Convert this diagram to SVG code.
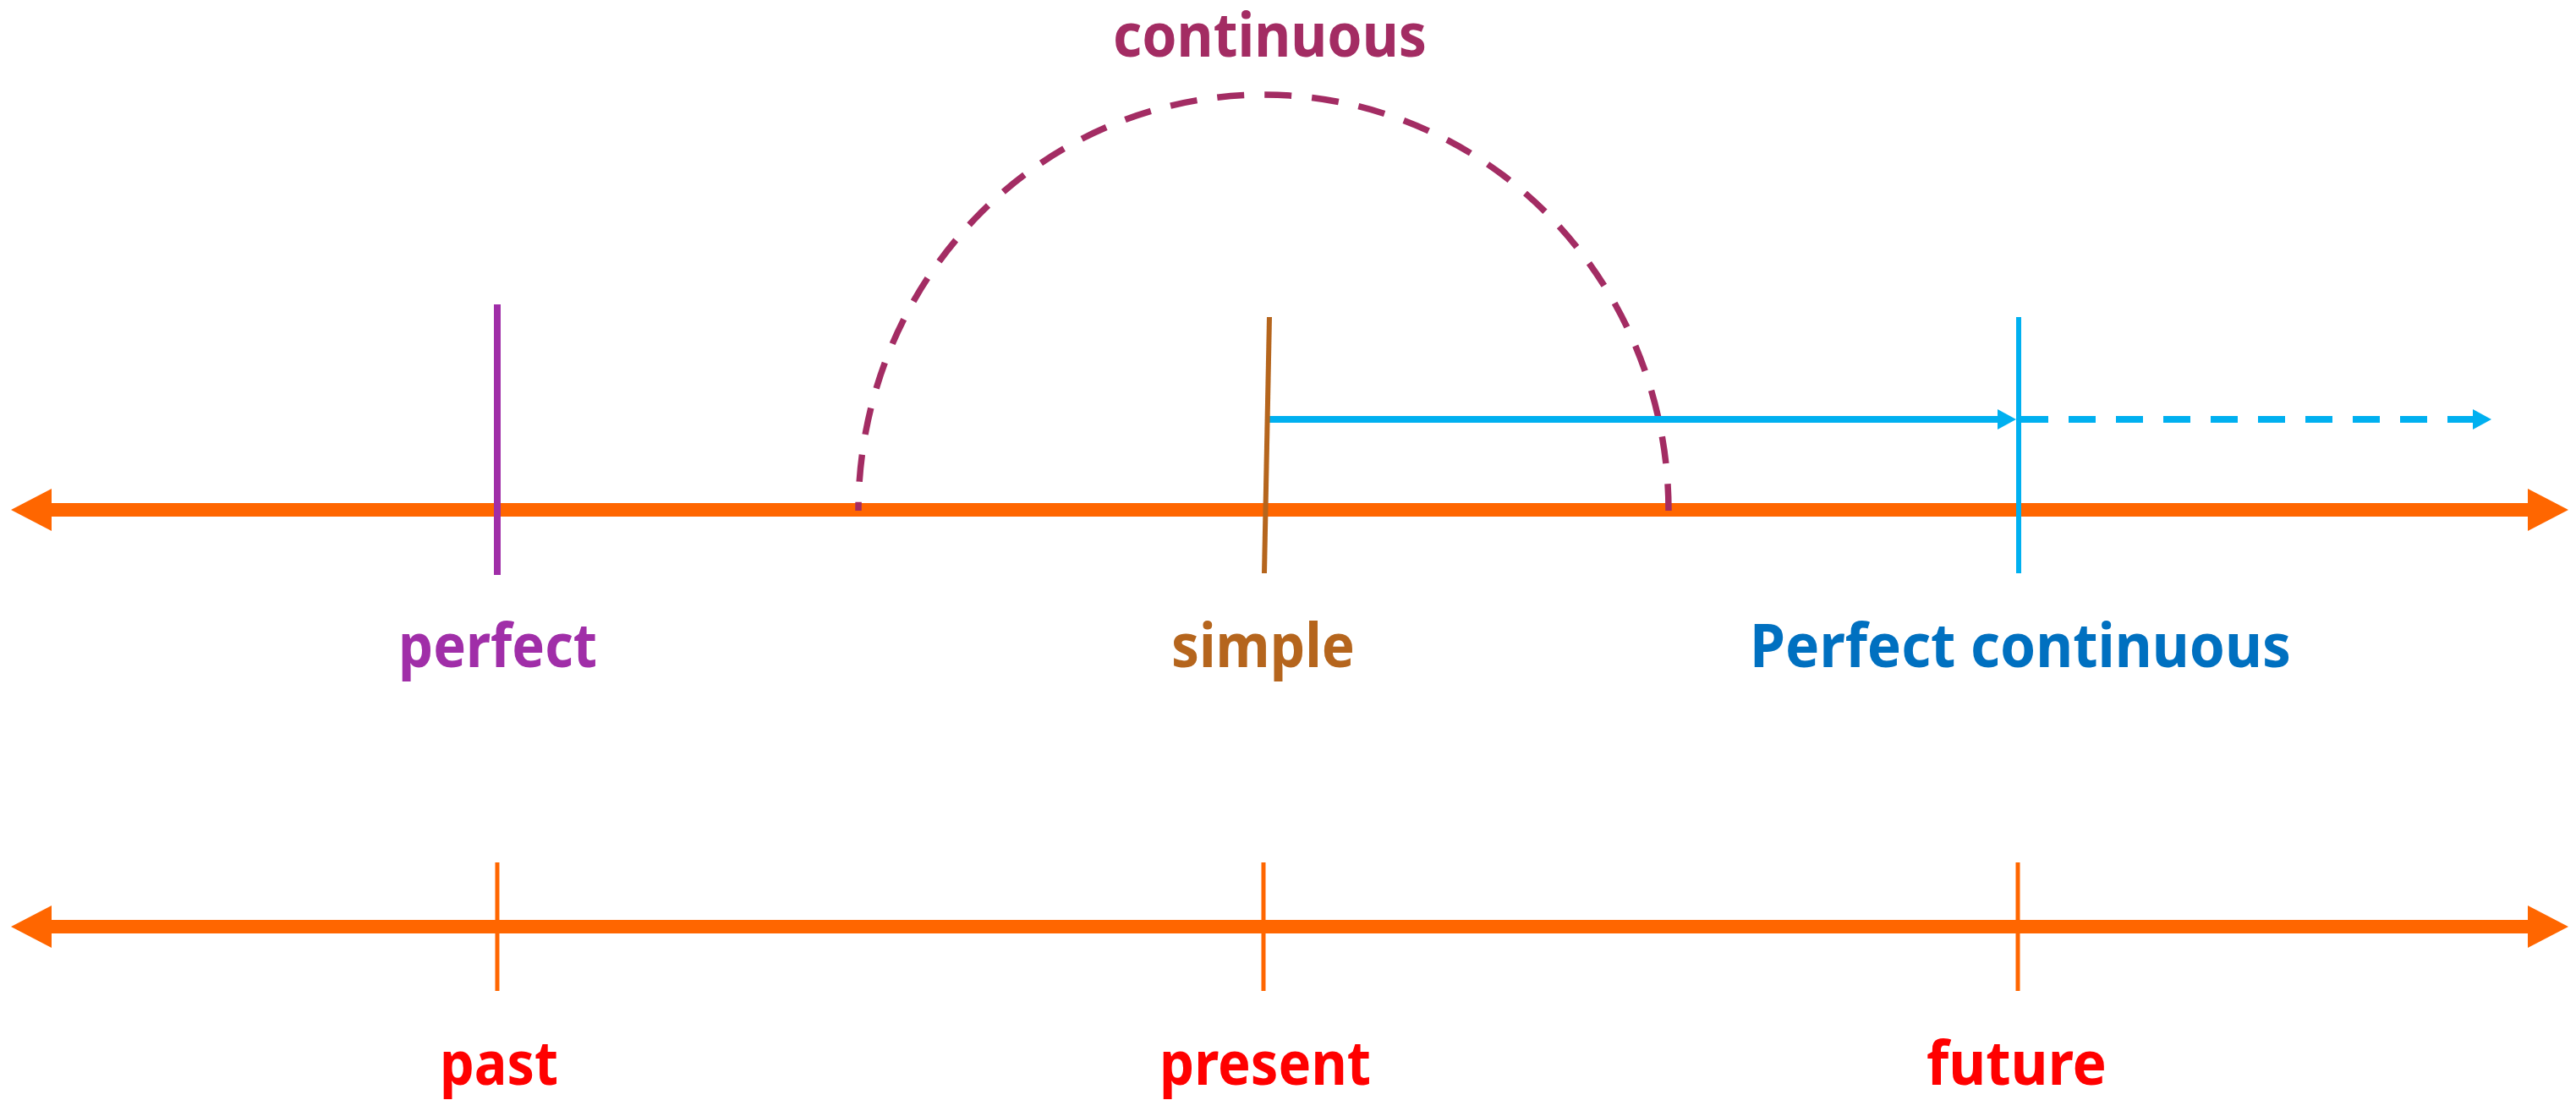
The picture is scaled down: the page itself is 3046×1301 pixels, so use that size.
<svg xmlns="http://www.w3.org/2000/svg" width="3046" height="1301" viewBox="0 0 3046 1301">
<style>
  text { font-family: "Noto Sans", "Open Sans", "DejaVu Sans", sans-serif; font-weight: bold; font-size: 72px; }
  .axis { stroke: #FF6600; stroke-width: 16; fill: none; marker-start: url(#axisHead); marker-end: url(#axisHead); }
  .tick { stroke: #FF6600; stroke-width: 5; }
  .blue { stroke: #00B0F0; stroke-width: 8; fill: none; marker-end: url(#blueHead); }
</style>
<defs>
  <marker id="axisHead" markerUnits="userSpaceOnUse" viewBox="0 0 48 50" markerWidth="48" markerHeight="50" refX="0" refY="25" orient="auto-start-reverse">
    <path d="M0,0 L48,25 L0,50 Z" fill="#FF6600"/>
  </marker>
  <marker id="blueHead" markerUnits="userSpaceOnUse" viewBox="0 0 22 24" markerWidth="22" markerHeight="24" refX="0" refY="12" orient="auto">
    <path d="M0,0 L22,12 L0,24 Z" fill="#00B0F0"/>
  </marker>
</defs>
<rect width="3046" height="1301" fill="#FFFFFF"/>

<g id="connectors">
  <line id="top-axis" class="axis" x1="61" y1="603" x2="2989" y2="603"/>
  <line id="bottom-axis" class="axis" x1="61" y1="1096" x2="2989" y2="1096"/>
  <path id="continuous-arc" d="M1973,604 A479,492 0 0 0 1015,604" fill="none" stroke="#A32C63" stroke-width="7.5" stroke-dasharray="32 24.1"/>
  <line id="simple-to-perfect" class="blue" x1="1500" y1="496" x2="2362" y2="496"/>
  <line id="perfect-onward" class="blue" x1="2390" y1="496" x2="2924" y2="496" stroke-dasharray="32 24"/>
</g>

<g id="perfect">
  <line x1="588" y1="360" x2="588" y2="680" stroke="#A02EA8" stroke-width="8"/>
  <text x="471" y="789" fill="#A02EA8" textLength="235" lengthAdjust="spacingAndGlyphs">perfect</text>
</g>
<g id="simple">
  <line x1="1501" y1="375" x2="1495" y2="678" stroke="#B5651D" stroke-width="6"/>
  <text x="1385" y="789" fill="#B5651D" textLength="217" lengthAdjust="spacingAndGlyphs">simple</text>
</g>
<g id="perfect-continuous">
  <line x1="2387" y1="375" x2="2387" y2="678" stroke="#00B0F0" stroke-width="6"/>
  <text x="2069" y="789" fill="#0070C0" textLength="640" lengthAdjust="spacingAndGlyphs">Perfect continuous</text>
</g>
<g id="continuous">
  <text x="1316" y="67" fill="#A32C63" textLength="371" lengthAdjust="spacingAndGlyphs">continuous</text>
</g>

<g id="past">
  <line class="tick" x1="588" y1="1020" x2="588" y2="1172"/>
  <text x="520" y="1283" fill="#FF0000" textLength="140" lengthAdjust="spacingAndGlyphs">past</text>
</g>
<g id="present">
  <line class="tick" x1="1494" y1="1020" x2="1494" y2="1172"/>
  <text x="1371" y="1283" fill="#FF0000" textLength="250" lengthAdjust="spacingAndGlyphs">present</text>
</g>
<g id="future">
  <line class="tick" x1="2386" y1="1020" x2="2386" y2="1172"/>
  <text x="2278" y="1283" fill="#FF0000" textLength="213" lengthAdjust="spacingAndGlyphs">future</text>
</g>
</svg>
